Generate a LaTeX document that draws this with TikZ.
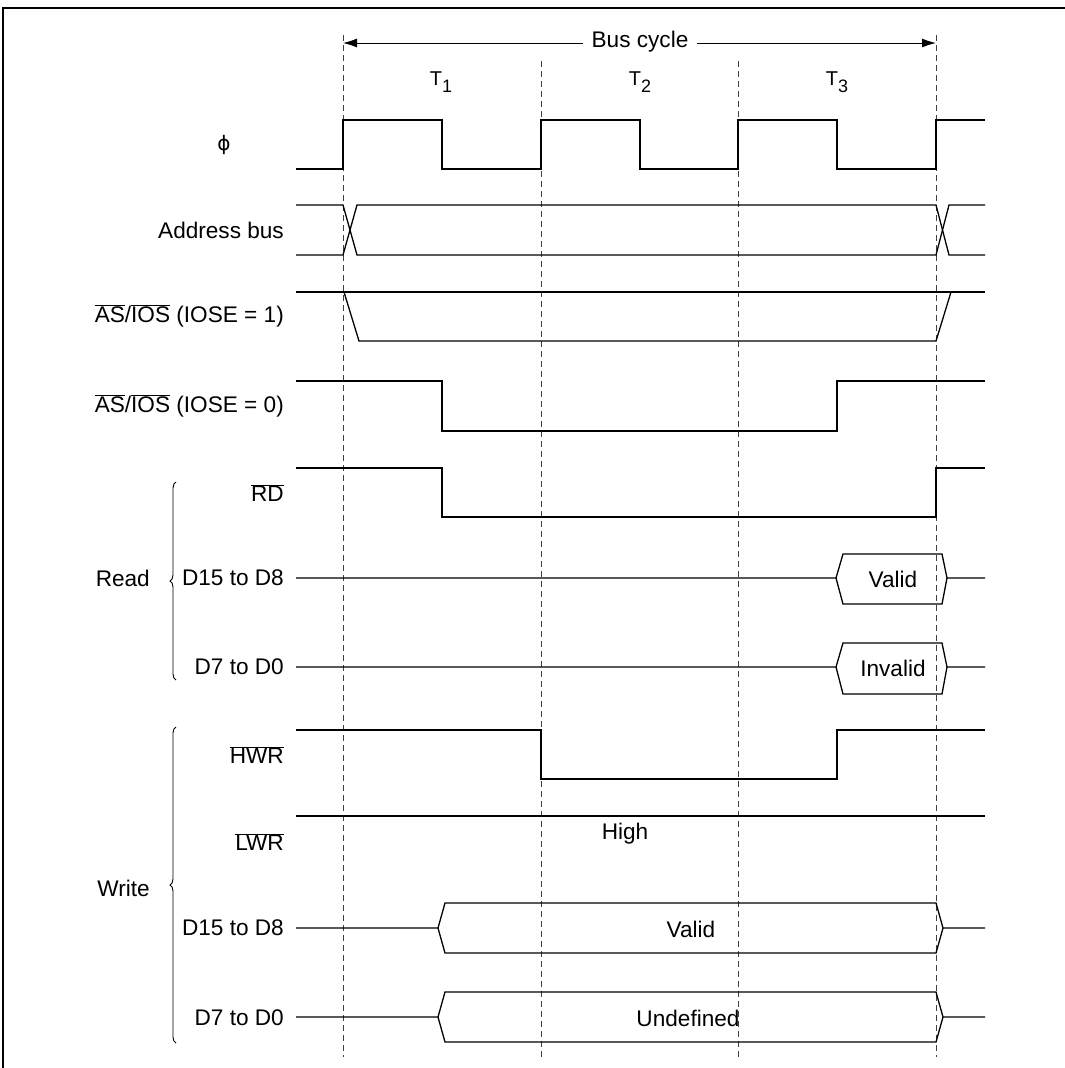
\documentclass[tikz,border=0pt]{standalone}
\usepackage{fontspec}
\setmainfont{Liberation Sans}
\newfontfamily\phifont{DejaVu Sans}
\usetikzlibrary{arrows.meta,decorations.pathreplacing}
\newcommand\ovl[1]{$\overline{\mbox{#1}}$}
\newcommand\tsub[1]{T\raisebox{-7pt}{\fontsize{18}{20}\selectfont #1}}
\begin{document}
\begin{tikzpicture}[x=1pt,y=-1pt,
  sig/.style={line width=1.3pt, line join=miter},
  gridline/.style={dash pattern=on 6pt off 4pt, line width=0.9pt, black!75},
  lbl/.style={anchor=east, inner sep=0pt, font=\fontsize{22.6}{26}\selectfont},
  txt/.style={inner sep=0pt, font=\fontsize{22.6}{26}\selectfont},
  bracestyle/.style={decorate, decoration={brace, amplitude=6pt}, line width=0.9pt}]
\useasboundingbox (0,0) rectangle (1065,1068);
\draw[line width=1.5pt] (3,1068) -- (3,8) -- (1065,8);

% grid lines
\coordinate (g0t) at (343,35);  \coordinate (g0b) at (343,1057);
\coordinate (g1t) at (541,61);  \coordinate (g1b) at (541,1057);
\coordinate (g2t) at (738,61);  \coordinate (g2b) at (738,1057);
\coordinate (g3t) at (936,35);  \coordinate (g3b) at (936,1057);
\draw[gridline] (g0t) -- (g0b);
\draw[gridline] (g1t) -- (g1b);
\draw[gridline] (g2t) -- (g2b);
\draw[gridline] (g3t) -- (g3b);

% bus cycle
\node[txt, fill=white, inner xsep=8pt, inner ysep=2pt] (bc) at (640,42) {Bus cycle};
\coordinate (bcl) at (343,43); \coordinate (bcr) at (936,43);
\draw[line width=1pt, -{Latex[length=14pt,width=9pt]}] (bc.west |- bcl) -- (bcl);
\draw[line width=1pt, -{Latex[length=14pt,width=9pt]}] (bc.east |- bcr) -- (bcr);

\node[txt, font=\fontsize{20}{24}\selectfont] (t1) at (441,82) {\tsub{1}};
\node[txt, font=\fontsize{20}{24}\selectfont] (t2) at (640,82) {\tsub{2}};
\node[txt, font=\fontsize{20}{24}\selectfont] (t3) at (837,82) {\tsub{3}};

% labels
\node[txt, font=\fontsize{20}{24}\phifont] (lphi) at (224,145) {ϕ};
\node[lbl] (laddr) at (284,230) {Address bus};
\node[lbl] (las1) at (284,316) {\ovl{AS}/\ovl{IOS} (IOSE = 1)};
\node[lbl] (las0) at (284,406) {\ovl{AS}/\ovl{IOS} (IOSE = 0)};
\node[lbl] (lrd) at (284,493) {\ovl{RD}};
\node[lbl] (lrd15) at (284,578) {D15 to D8};
\node[lbl] (lrd7) at (284,667) {D7 to D0};
\node[lbl] (lhwr) at (284,755) {\ovl{HWR}};
\node[lbl] (llwr) at (284,842) {\ovl{LWR}};
\node[lbl] (lwd15) at (284,928) {D15 to D8};
\node[lbl] (lwd7) at (284,1018) {D7 to D0};
\node[lbl] (lread) at (150,578) {Read};
\node[lbl] (lwrite) at (150,888) {Write};

% braces
\coordinate (rb1) at (176,680); \coordinate (rb2) at (176,482);
\draw[bracestyle] (rb1) -- (rb2);
\coordinate (wb1) at (176,1043); \coordinate (wb2) at (176,727);
\draw[bracestyle] (wb1) -- (wb2);

% clock
\draw[sig] (296,169) -- (343,169) -- (343,120) -- (442,120) -- (442,169) -- (541,169) -- (541,120) -- (640,120) -- (640,169) -- (738,169) -- (738,120) -- (837,120) -- (837,169) -- (936,169) -- (936,120) -- (985,120);

% address bus
\draw[sig] (296,205) -- (343,205) -- (357,255) -- (936,255) -- (949,205) -- (985,205);
\draw[sig] (296,255) -- (343,255) -- (357,205) -- (936,205) -- (949,255) -- (985,255);

% AS/IOS IOSE=1
\draw[sig] (296,292) -- (985,292);
\draw[sig] (344,292) -- (359,341) -- (936,341) -- (951,292);

% AS/IOS IOSE=0
\draw[sig] (296,381) -- (442,381) -- (442,431) -- (837,431) -- (837,381) -- (985,381);

% RD
\draw[sig] (296,468) -- (442,468) -- (442,517) -- (936,517) -- (936,468) -- (985,468);

% Read data
\draw[sig] (296,578) -- (836,578) -- (843,554) -- (942,554) -- (947,578) -- (985,578);
\draw[sig] (836,578) -- (843,604) -- (942,604) -- (947,578);
\node[txt] (rv) at (893,579) {Valid};
\draw[sig] (296,667) -- (836,667) -- (843,643) -- (942,643) -- (947,667) -- (985,667);
\draw[sig] (836,667) -- (843,694) -- (942,694) -- (947,667);
\node[txt] (riv) at (893,668) {Invalid};

% HWR
\draw[sig] (296,730) -- (541,730) -- (541,779) -- (837,779) -- (837,730) -- (985,730);

% LWR
\draw[sig] (296,816) -- (985,816);
\node[txt] (hi) at (625,834) {High};

% Write data
\draw[sig] (296,928) -- (438,928) -- (445,903) -- (936,903) -- (943,928) -- (985,928);
\draw[sig] (438,928) -- (445,953) -- (936,953) -- (943,928);
\node[txt] (wv) at (691,929) {Valid};
\draw[sig] (296,1017) -- (438,1017) -- (445,992) -- (936,992) -- (943,1017) -- (985,1017);
\draw[sig] (438,1017) -- (445,1042) -- (936,1042) -- (943,1017);
\node[txt] (wu) at (688,1018) {Undefined};
\end{tikzpicture}
\end{document}
